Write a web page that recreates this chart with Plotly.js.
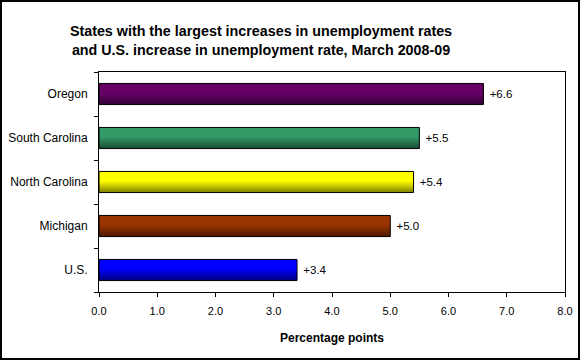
<!DOCTYPE html>
<html>
<head>
<meta charset="utf-8">
<script src="https://cdn.plot.ly/plotly-3.0.1.min.js"></script>
<style>
html,body{margin:0;padding:0;background:#fff;}
#wrap{position:relative;width:580px;height:360px;}
#chart{position:absolute;left:0;top:0;width:580px;height:360px;}
#frame{position:absolute;left:0;top:0;width:580px;height:360px;box-sizing:border-box;border:2px solid #000;pointer-events:none;}
</style>
</head>
<body>
<div id="wrap"><div id="chart"></div><div id="frame"></div></div>
<script>
// Data (bottom to top as drawn)
var categories = ["U.S.", "Michigan", "North Carolina", "South Carolina", "Oregon"];
var increases = [3.4, 5.0, 5.4, 5.5, 6.6];
var barColors = ["#0000FF", "#993300", "#FFFF00", "#339966", "#660066"];
var barColorsDark = ["#000080", "#4d1a00", "#808000", "#1a4d33", "#330033"];
var xTickVals = [0, 1, 2, 3, 4, 5, 6, 7, 8];
var xTickText = ["0.0", "1.0", "2.0", "3.0", "4.0", "5.0", "6.0", "7.0", "8.0"];

var trace = {
  type: "bar",
  orientation: "h",
  y: categories,
  x: increases,
  marker: {color: barColors, line: {color: "#000", width: 1}},
  text: increases.map(function(v){ return "\u00a0+" + v.toFixed(1); }),
  textposition: "outside",
  cliponaxis: false,
  textfont: {family: "Liberation Sans, Arial, sans-serif", size: 11.5, color: "#000"},
  hoverinfo: "none"
};

var layout = {
  width: 580, height: 360,
  margin: {l: 99, r: 15, t: 72, b: 68},
  paper_bgcolor: "#fff", plot_bgcolor: "#fff",
  showlegend: false,
  bargap: 0.52,
  font: {family: "Liberation Sans, Arial, sans-serif", size: 11, color: "#000"},
  title: {
    text: "<b>States with the largest increases in unemployment rates<br>and U.S. increase in unemployment rate, March 2008-09</b>",
    font: {size: 14.3, color: "#000"},
    xref: "container", x: 0.45, xanchor: "center",
    yref: "container", y: 0.899, yanchor: "middle"
  },
  xaxis: {
    range: [0, 8], tickvals: xTickVals, ticktext: xTickText,
    showgrid: false, zeroline: false,
    showline: true, linecolor: "#000", linewidth: 1, mirror: true,
    ticks: "outside", ticklen: 4, tickcolor: "#000", tickwidth: 1,
    tickfont: {size: 11},
    ticklabelstandoff: 5,
    title: {text: "<b>Percentage points</b>", font: {size: 12}, standoff: 17},
    fixedrange: true
  },
  yaxis: {
    showgrid: false, zeroline: false,
    showline: true, linecolor: "#000", linewidth: 1, mirror: true,
    ticks: "outside", ticklen: 4, tickcolor: "#000", tickwidth: 1,
    tickson: "boundaries",
    tickfont: {size: 12},
    ticklabelstandoff: 8,
    fixedrange: true
  }
};

Plotly.newPlot("chart", [trace], layout, {staticPlot: true}).then(function(gd){
  var svg = gd.querySelector("svg.main-svg");
  var defs = svg.querySelector("defs");
  var ns = "http://www.w3.org/2000/svg";
  barColors.forEach(function(c, i){
    var g = document.createElementNS(ns, "linearGradient");
    g.setAttribute("id", "barg" + i);
    g.setAttribute("x1", "0"); g.setAttribute("y1", "0");
    g.setAttribute("x2", "0"); g.setAttribute("y2", "1");
    [[0, c], [0.45, c], [1, barColorsDark[i]]].forEach(function(s){
      var st = document.createElementNS(ns, "stop");
      st.setAttribute("offset", s[0]);
      st.setAttribute("stop-color", s[1]);
      g.appendChild(st);
    });
    defs.appendChild(g);
  });
  var paths = gd.querySelectorAll(".barlayer .point path");
  paths.forEach(function(p, i){ p.style.fill = "url(#barg" + i + ")"; });
});
</script>
</body>
</html>
